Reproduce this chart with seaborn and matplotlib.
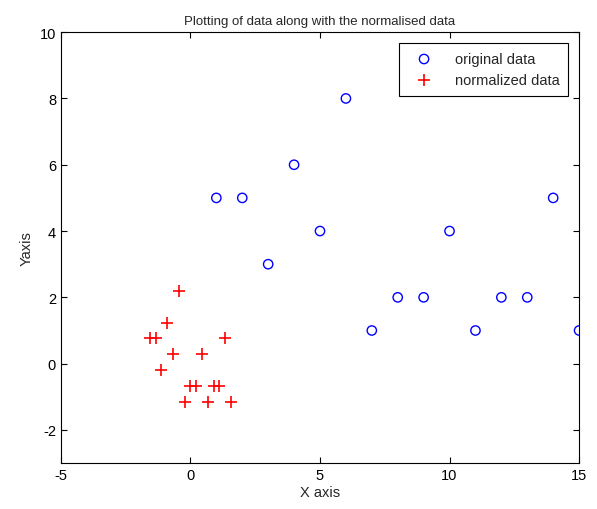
import pandas as pd
import matplotlib
matplotlib.use("Agg")
import matplotlib.pyplot as plt
import seaborn as sns

# original data
x_orig = [1, 2, 3, 4, 5, 6, 7, 8, 9, 10, 11, 12, 13, 14, 15]
y_orig = [5, 5, 3, 6, 4, 8, 1, 2, 2, 4, 1, 2, 2, 5, 1]

# normalized data
x_norm = [-1.565, -1.342, -1.118, -0.894, -0.671, -0.447, -0.224, 0.0,
          0.224, 0.447, 0.671, 0.894, 1.118, 1.342, 1.565]
y_norm = [0.763, 0.763, -0.191, 1.239, 0.286, 2.193, -1.144, -0.667,
          -0.667, 0.286, -1.144, -0.667, -0.667, 0.763, -1.144]

x_ticks = [-5, 0, 5, 10, 15]
y_ticks = [-2, 0, 2, 4, 6, 8, 10]

sns.set_theme(style="ticks")
plt.rcParams["font.family"] = ["Liberation Sans", "DejaVu Sans"]
plt.rcParams["axes.unicode_minus"] = False

fig = plt.figure(figsize=(5.97, 5.10), dpi=100)
ax = fig.add_axes([0.102, 0.090, 0.868, 0.845])

df_o = pd.DataFrame({"x": x_orig, "y": y_orig})
df_n = pd.DataFrame({"x": x_norm, "y": y_norm})

sns.scatterplot(data=df_o, x="x", y="y", ax=ax, marker="o", s=45,
                facecolors="none", edgecolor="#0000ff", linewidth=1.0,
                label="original data")
sns.scatterplot(data=df_n, x="x", y="y", ax=ax, marker="+", s=70,
                color="#ff0000", linewidth=1.2, label="normalized data")

ax.set_xlim(-5, 15)
ax.set_ylim(-3, 10)
ax.set_xticks(x_ticks)
ax.set_yticks(y_ticks)
ax.tick_params(direction="in", top=True, right=True, length=4,
               labelsize=10.5, width=0.8, colors="black")
for sp in ax.spines.values():
    sp.set_linewidth(0.8)
    sp.set_color("black")

ax.set_title("Plotting of data along with the normalised data", fontsize=9.5, pad=6)
ax.set_xlabel("X axis", fontsize=10.5, labelpad=2)
ax.set_ylabel("Yaxis", fontsize=10.5, labelpad=4)

leg = ax.legend(loc="upper right", fontsize=10.5, frameon=True, fancybox=False,
                edgecolor="black", framealpha=1, borderpad=0.6,
                handlelength=2.2, handletextpad=1.0, labelspacing=0.5,
                borderaxespad=0.75)
leg.get_frame().set_linewidth(0.8)

fig.savefig("out.png", dpi=100)
